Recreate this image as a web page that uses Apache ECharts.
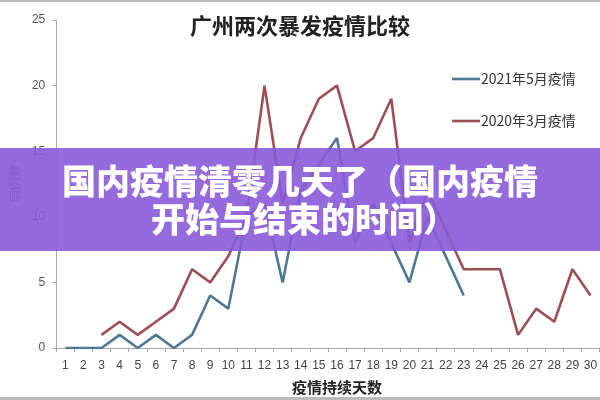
<!DOCTYPE html>
<html><head><meta charset="utf-8">
<script src="https://cdn.jsdelivr.net/npm/echarts@6/dist/echarts.min.js"></script>
<style>html,body{margin:0;padding:0;background:#fff}#c{width:600px;height:400px}</style>
</head><body><div id="c"></div>
<script>
const days = ['1','2','3','4','5','6','7','8','9','10','11','12','13','14','15','16','17','18','19','20','21','22','23','24','25','26','27','28','29','30'];
const yTicks = [0,5,10,15,20,25];
const series2021 = [0,0,0,1,0,1,0,1,4,3,10,11,5,12,14,16,8,11,8,5,10,7,4,'-','-','-','-','-','-','-'];
const series2020 = ['-','-',1,2,1,2,3,6,5,7,10,20,11,16,19,20,15,16,19,8,12,9,6,6,6,1,3,2,6,4];
const legendNames = ['2021年5月疫情','2020年3月疫情'];
const titleText = '广州两次暴发疫情比较';
const bannerLines = ['国内疫情清零几天了（国内疫情','开始与结束的时间）'];

const chart = echarts.init(document.getElementById('c'), null, {renderer:'canvas'});
chart.setOption({
  backgroundColor:'#fff',
  animation:false,
  title:{text:titleText,left:'center',top:10,textStyle:{fontFamily:'Noto Sans CJK SC',fontSize:22,fontWeight:'bold',color:'#222'}},
  legend:{orient:'vertical',left:447,top:67,itemWidth:28,itemHeight:14,itemGap:28,
    icon:'path://M0,0 L28,0 L28,2.6 L0,2.6 Z',
    textStyle:{fontFamily:'Noto Sans CJK SC',fontSize:14,color:'#333',padding:[0,0,0,-4]},
    data:legendNames},
  grid:{left:51,right:-6,top:20,bottom:48},
  xAxis:{type:'category',data:days,boundaryGap:true,
    name:'疫情持续天数',nameLocation:'middle',nameGap:32,
    nameTextStyle:{fontFamily:'Noto Sans CJK SC',fontSize:15,fontWeight:'bold',color:'#222',padding:[0,0,0,18]},
    axisLine:{lineStyle:{color:'#aaa',width:1}},
    axisTick:{show:true,length:4,lineStyle:{color:'#aaa'}},
    axisLabel:{fontFamily:'Liberation Sans',fontSize:12,color:'#444',margin:12,interval:0}},
  yAxis:{type:'value',min:0,max:25,interval:5,
    name:'病例数',nameLocation:'middle',nameGap:34,nameRotate:90,
    nameTextStyle:{fontFamily:'Noto Sans CJK SC',fontSize:13,color:'#666'},
    axisLine:{show:true,lineStyle:{color:'#aaa',width:1}},
    axisTick:{show:true,length:4,lineStyle:{color:'#aaa'}},
    splitLine:{show:false},
    axisLabel:{fontFamily:'Liberation Sans',fontSize:12,color:'#555',margin:11,
      formatter:function(v){return yTicks.indexOf(v)>=0?String(v):'';}}},
  series:[
    {name:legendNames[0],type:'line',data:series2021,symbol:'none',connectNulls:false,
      lineStyle:{color:'#4f7894',width:2.6},itemStyle:{color:'#4f7894'},z:3},
    {name:legendNames[1],type:'line',data:series2020,symbol:'none',connectNulls:false,
      lineStyle:{color:'#9c4f55',width:2.6},itemStyle:{color:'#9c4f55'},z:2}
  ],
  graphic:[
    {type:'rect',left:0,top:0,z:100,shape:{width:600,height:2},style:{fill:'#bbb'}},
    {type:'rect',left:0,top:397,z:100,shape:{width:600,height:3},style:{fill:'#bbb'}},
    {type:'rect',left:0,top:148,z:100,shape:{width:600,height:103},style:{fill:'rgba(136,90,216,0.9)'}},
    {type:'text',z:101,x:300,y:181,style:{text:bannerLines[0],textAlign:'center',textVerticalAlign:'middle',fill:'#fff',font:'900 34px "Noto Sans CJK SC"'}},
    {type:'text',z:101,x:304,y:219,style:{text:bannerLines[1],textAlign:'center',textVerticalAlign:'middle',fill:'#fff',font:'900 34px "Noto Sans CJK SC"'}}
  ]
});
</script></body></html>
